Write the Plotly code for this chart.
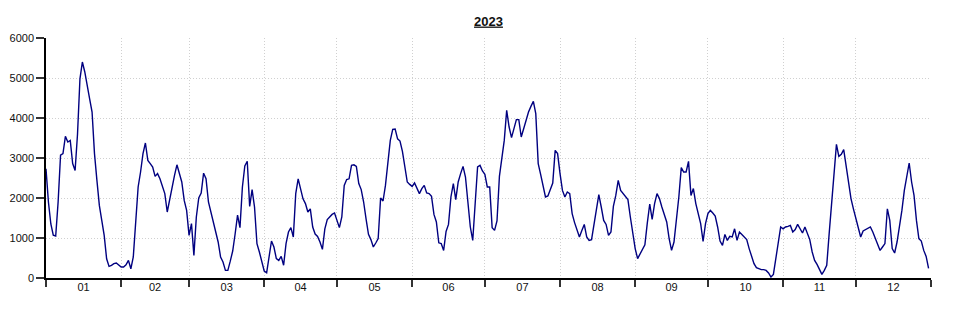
import pandas as pd
import plotly.graph_objects as go

YEAR = 2023
month_labels = ["01", "02", "03", "04", "05", "06", "07", "08", "09", "10", "11", "12"]

jan = [2730, 1900, 1350, 1070, 1050, 1900, 3070, 3110, 3540, 3400, 3440, 2860, 2690, 3600, 4980, 5400,
       5150, 4770, 4480, 4150, 3110, 2440, 1815, 1440, 1065, 480, 290, 315, 360, 375, 315]
feb = [275, 275, 330, 440, 230, 525, 1440, 2275, 2650, 3110, 3375, 2940, 2860, 2775, 2540, 2610,
       2480, 2315, 2110, 1650, 1980, 2275, 2565, 2830, 2610, 2400, 1940, 1690]
mar = [1065, 1360, 565, 1525, 2000, 2125, 2620, 2480, 1900, 1650, 1400, 1150, 900, 525, 400, 190,
       190, 420, 675, 1100, 1570, 1260, 2275, 2800, 2920, 1790, 2210, 1775, 860, 650, 400]
apr = [175, 130, 570, 925, 775, 485, 440, 540, 320, 860, 1150, 1260, 1025, 2110, 2480, 2190,
       1980, 1860, 1650, 1730, 1275, 1100, 1040, 900, 715, 1230, 1460, 1525, 1590, 1625]
may = [1440, 1260, 1525, 2315, 2460, 2480, 2815, 2830, 2790, 2360, 2210, 1900, 1480, 1090, 960, 775,
       875, 985, 2000, 1925, 2315, 2900, 3440, 3715, 3725, 3480, 3425, 3165, 2775, 2400, 2340]
jun = [2290, 2375, 2260, 2110, 2235, 2315, 2125, 2110, 2040, 1590, 1400, 880, 860, 690, 1165, 1340,
       2025, 2360, 1960, 2400, 2610, 2790, 2525, 1815, 1275, 940, 1775, 2775, 2815, 2675]
jul = [2590, 2275, 2275, 1260, 1190, 1425, 2540, 3025, 3440, 4190, 3775, 3510, 3775, 3960, 3960, 3525,
       3730, 3940, 4150, 4290, 4415, 4110, 2860, 2590, 2275, 2025, 2050, 2210, 2375, 3190, 3110]
aug = [2610, 2190, 2025, 2150, 2110, 1610, 1385, 1190, 1025, 1190, 1340, 1025, 940, 960, 1360, 1730,
       2085, 1775, 1440, 1340, 1065, 1150, 1790, 2065, 2440, 2190, 2110, 2050, 1960, 1525, 1110]
sep = [735, 485, 590, 700, 830, 1380, 1850, 1465, 1860, 2110, 1985, 1775, 1610, 1400, 985, 690,
       900, 1440, 2025, 2760, 2650, 2650, 2915, 2065, 2235, 1860, 1565, 1360, 915, 1360]
oct_ = [1610, 1690, 1625, 1550, 1275, 925, 815, 1090, 940, 1040, 1025, 1230, 940, 1150, 1090, 1025,
        960, 735, 525, 360, 260, 225, 210, 210, 190, 125, 25, 90, 525, 860, 1275]
nov = [1230, 1275, 1290, 1315, 1150, 1210, 1340, 1240, 1125, 1275, 1125, 960, 650, 440, 340, 210,
       90, 190, 315, 1110, 1940, 2610, 3340, 3040, 3090, 3210, 2815, 2400, 1985, 1730]
dec = [1480, 1275, 1025, 1175, 1210, 1230, 1275, 1150, 985, 815, 690, 775, 860, 1730, 1440, 735,
       625, 900, 1275, 1690, 2190, 2565, 2875, 2400, 2065, 1440, 985, 925, 690, 540, 240]

values = jan + feb + mar + apr + may + jun + jul + aug + sep + oct_ + nov + dec
dates = pd.date_range(f"{YEAR}-01-01", periods=len(values), freq="D")

x_range = [f"{YEAR}-01-01", f"{YEAR + 1}-01-01"]
y_range = [0, 6000]

font_family = "Liberation Sans, Arial, sans-serif"
grid_color = "#d0d0d0"
axis_color = "#000000"
tick_color = "#333333"
grid_dash = "1px,2px"

# page body has an 8px default margin; size the figure to fit inside the window
FIG_W, FIG_H = 949, 304

fig = go.Figure()
fig.add_trace(go.Scatter(x=dates, y=values, mode="lines",
                         line=dict(color="#000080", width=1.4), hoverinfo="x+y",
                         showlegend=False))

fig.update_layout(
    width=FIG_W, height=FIG_H,
    margin=dict(l=38, r=26, t=30, b=34, autoexpand=False),
    paper_bgcolor="white", plot_bgcolor="white",
    font=dict(family=font_family, size=11, color="#111111"),
    title=dict(text="<b>2023</b>", x=0.5, xref="paper", xanchor="center",
               y=1 - 13 / FIG_H, yref="container", yanchor="middle",
               font=dict(size=13, color="#111111", family=font_family, lineposition="under")),
    xaxis=dict(
        type="date", range=x_range, tick0=f"{YEAR}-01-01", dtick="M1",
        tickformat="%m", ticklabelmode="period", automargin=False,
        ticks="outside", ticklen=7, tickwidth=1.5, tickcolor=tick_color,
        ticklabelstandoff=-9,
        showline=True, linecolor=axis_color, linewidth=1.5,
        showgrid=True, gridcolor=grid_color, griddash=grid_dash, gridwidth=1,
        zeroline=False, tickfont=dict(size=11, color="#111111"),
    ),
    xaxis2=dict(
        type="date", range=x_range, tick0=f"{YEAR}-01-01", dtick="M1",
        overlaying="x", side="top", anchor="y", automargin=False,
        ticks="inside", ticklen=7, tickwidth=1.5, tickcolor=tick_color,
        showticklabels=False, showline=True, linecolor=axis_color, linewidth=1.5,
        showgrid=False, zeroline=False,
    ),
    yaxis=dict(
        range=y_range, dtick=1000, tick0=0, automargin=False,
        ticks="outside", ticklen=8, tickwidth=1.5, tickcolor=tick_color,
        showline=True, linecolor=axis_color, linewidth=1.5,
        showgrid=True, gridcolor=grid_color, griddash=grid_dash, gridwidth=1,
        zeroline=False, tickfont=dict(size=11, color="#111111"),
    ),
    yaxis2=dict(
        range=y_range, dtick=1000, tick0=0,
        overlaying="y", side="right", anchor="x", automargin=False,
        ticks="inside", ticklen=7, tickwidth=1.5, tickcolor=tick_color,
        showticklabels=False, showline=True, linecolor=axis_color, linewidth=1.5,
        showgrid=False, zeroline=False,
    ),
)

fig.write_html("out.html")
